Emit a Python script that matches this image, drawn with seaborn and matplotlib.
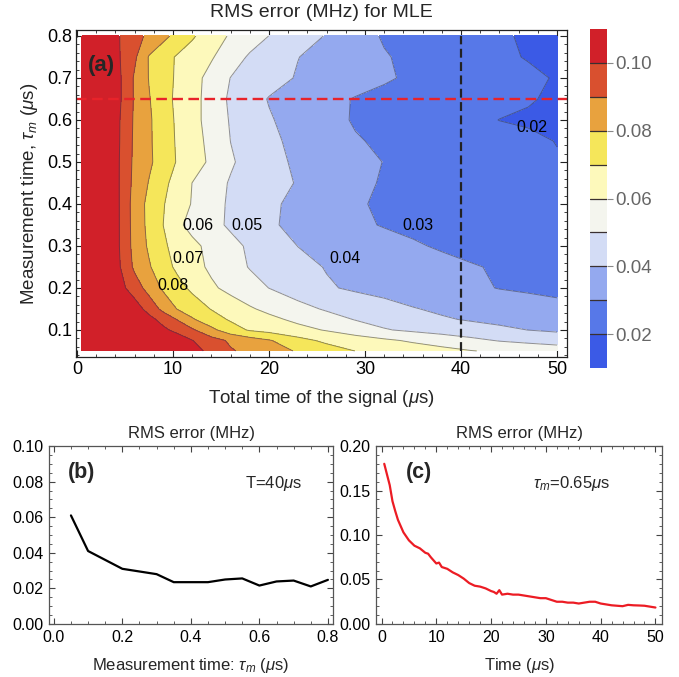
import numpy as np
import pandas as pd
import matplotlib
matplotlib.use("Agg")
import matplotlib.pyplot as plt
import seaborn as sns
from matplotlib.ticker import MultipleLocator, FormatStrFormatter, NullLocator, FixedLocator

# ---------------- data ----------------
total_time = [0.5, 3, 4.5, 6, 7.5, 9, 10.5, 12, 14, 16, 18, 20, 23, 26, 29, 32, 35, 38, 41, 44, 47, 50]
meas_time = [0.05, 0.075, 0.1, 0.125, 0.15, 0.2, 0.25, 0.3, 0.35, 0.4, 0.45, 0.5, 0.55, 0.6, 0.65, 0.7, 0.75, 0.8]

rms_t005 = [0.35, 0.22, 0.18, 0.15, 0.135, 0.122, 0.112, 0.104, 0.097, 0.0909, 0.0876, 0.0840, 0.0792, 0.0746, 0.0699, 0.0675, 0.0653, 0.0630, 0.0604, 0.0585, 0.0568, 0.0552]
rms_t0075 = [0.32, 0.20, 0.16, 0.14, 0.125, 0.112, 0.106, 0.1003, 0.0939, 0.0885, 0.0846, 0.0808, 0.0733, 0.0679, 0.0648, 0.0617, 0.0586, 0.0555, 0.0524, 0.0494, 0.0476, 0.0460]
rms_t010 = [0.30, 0.18, 0.14, 0.12, 0.108, 0.1021, 0.0968, 0.0914, 0.0824, 0.0744, 0.0690, 0.0666, 0.0630, 0.0593, 0.0550, 0.0507, 0.0483, 0.0462, 0.0441, 0.0421, 0.0399, 0.0385]
rms_t0125 = [0.28, 0.16, 0.125, 0.11, 0.1032, 0.0964, 0.0894, 0.0811, 0.0742, 0.0689, 0.0656, 0.0624, 0.0579, 0.0537, 0.0496, 0.0467, 0.0438, 0.0410, 0.0392, 0.0375, 0.0358, 0.0342]
rms_t015 = [0.26, 0.14, 0.115, 0.105, 0.0963, 0.0872, 0.0794, 0.0751, 0.0696, 0.0653, 0.0611, 0.0577, 0.0530, 0.0490, 0.0462, 0.0434, 0.0405, 0.0385, 0.0370, 0.0355, 0.0340, 0.0325]
rms_t020 = [0.24, 0.125, 0.1030, 0.0950, 0.0863, 0.0783, 0.0731, 0.0681, 0.0616, 0.0572, 0.0535, 0.0499, 0.0454, 0.0410, 0.0386, 0.0368, 0.0351, 0.0333, 0.0315, 0.0297, 0.0287, 0.0278]
rms_t025 = [0.22, 0.118, 0.1001, 0.0881, 0.0810, 0.0738, 0.0679, 0.0635, 0.0582, 0.0536, 0.0495, 0.0468, 0.0429, 0.0395, 0.0377, 0.0359, 0.0341, 0.0324, 0.0306, 0.0292, 0.0281, 0.0270]
rms_t030 = [0.21, 0.116, 0.0990, 0.0867, 0.0786, 0.0714, 0.0666, 0.0623, 0.0573, 0.0527, 0.0486, 0.0450, 0.0399, 0.0376, 0.0354, 0.0331, 0.0309, 0.0291, 0.0278, 0.0266, 0.0255, 0.0245]
rms_t035 = [0.20, 0.115, 0.0990, 0.0863, 0.0775, 0.0699, 0.0618, 0.0571, 0.0527, 0.0486, 0.0450, 0.0414, 0.0374, 0.0342, 0.0315, 0.0295, 0.0282, 0.0270, 0.0259, 0.0249, 0.0240, 0.0232]
rms_t040 = [0.20, 0.114, 0.0990, 0.0860, 0.0773, 0.0705, 0.0648, 0.0594, 0.0535, 0.0486, 0.0452, 0.0417, 0.0377, 0.0343, 0.0309, 0.0288, 0.0274, 0.0260, 0.0248, 0.0238, 0.0230, 0.0222]
rms_t045 = [0.19, 0.113, 0.0990, 0.0872, 0.0795, 0.0724, 0.0660, 0.0599, 0.0539, 0.0492, 0.0463, 0.0435, 0.0394, 0.0356, 0.0319, 0.0293, 0.0278, 0.0262, 0.0248, 0.0236, 0.0226, 0.0218]
rms_t050 = [0.19, 0.113, 0.0991, 0.0879, 0.0817, 0.0752, 0.0691, 0.0645, 0.0582, 0.0511, 0.0467, 0.0429, 0.0385, 0.0355, 0.0325, 0.0298, 0.0280, 0.0262, 0.0245, 0.0230, 0.0217, 0.0205]
rms_t055 = [0.19, 0.112, 0.0996, 0.0882, 0.0814, 0.0748, 0.0687, 0.0642, 0.0571, 0.0499, 0.0460, 0.0420, 0.0376, 0.0341, 0.0306, 0.0288, 0.0273, 0.0258, 0.0243, 0.0228, 0.0213, 0.0198]
rms_t060 = [0.19, 0.112, 0.0998, 0.0886, 0.0814, 0.0745, 0.0683, 0.0633, 0.0562, 0.0492, 0.0450, 0.0408, 0.0365, 0.0325, 0.0293, 0.0275, 0.0256, 0.0237, 0.0219, 0.0199, 0.0192, 0.0188]
rms_t065 = [0.179, 0.113, 0.1008, 0.0889, 0.0806, 0.0736, 0.0678, 0.0631, 0.0564, 0.0482, 0.0436, 0.0395, 0.0359, 0.0323, 0.0295, 0.0280, 0.0265, 0.0250, 0.0235, 0.0220, 0.0205, 0.0190]
rms_t070 = [0.20, 0.113, 0.1008, 0.0888, 0.0796, 0.0738, 0.0684, 0.0635, 0.0568, 0.0498, 0.0467, 0.0435, 0.0393, 0.0365, 0.0337, 0.0309, 0.0288, 0.0269, 0.0250, 0.0231, 0.0213, 0.0195]
rms_t075 = [0.20, 0.113, 0.0999, 0.0917, 0.0793, 0.0737, 0.0688, 0.0655, 0.0609, 0.0545, 0.0488, 0.0453, 0.0402, 0.0369, 0.0338, 0.0306, 0.0281, 0.0258, 0.0235, 0.0212, 0.0196, 0.0185]
rms_t080 = [0.20, 0.112, 0.0996, 0.0936, 0.0879, 0.0825, 0.0769, 0.0712, 0.0647, 0.0589, 0.0544, 0.0499, 0.0447, 0.0394, 0.0335, 0.0292, 0.0271, 0.0251, 0.0231, 0.0210, 0.0190, 0.0180]

levels = [0.01, 0.02, 0.03, 0.04, 0.05, 0.06, 0.07, 0.08, 0.09, 0.10, 0.11]
band_colors = ["#3b5ae6", "#5778e8", "#94a9ef", "#d3dcf5", "#f4f5ee",
               "#fdf9bb", "#f5e65a", "#e8a23e", "#d9502f", "#d12029"]
cbar_ticks = [0.02, 0.04, 0.06, 0.08, 0.10]

label_levels = [0.08, 0.07, 0.06, 0.05, 0.04, 0.03, 0.02]

# panel (b): T = 40 us
tau_b = [0.05, 0.1, 0.15, 0.2, 0.25, 0.3, 0.35, 0.4, 0.45, 0.5, 0.55, 0.6, 0.65, 0.7, 0.75, 0.8]
err_b = [0.061, 0.041, 0.036, 0.031, 0.0295, 0.028, 0.0235, 0.0235, 0.0235, 0.025, 0.0256, 0.0216, 0.0239, 0.0244, 0.0211, 0.0248]

# panel (c): tau_m = 0.65 us
time_c = [0.5, 1, 1.5, 2, 2.5, 3, 4, 5, 6, 7, 8, 8.5, 9, 10, 10.5, 11, 12, 13, 14, 15, 16, 17, 18, 19, 20,
          20.5, 21, 21.5, 22, 23, 24, 25, 26, 27, 28, 29, 30, 31, 32, 33, 34, 35, 36, 37, 38, 39, 40,
          41, 42, 43, 44, 45, 46, 47, 48, 49, 50]
err_c = [0.180, 0.168, 0.156, 0.138, 0.127, 0.117, 0.103, 0.094, 0.088, 0.085, 0.080, 0.079, 0.075, 0.068,
         0.069, 0.064, 0.062, 0.058, 0.055, 0.051, 0.046, 0.043, 0.042, 0.040, 0.037, 0.036, 0.034, 0.038,
         0.033, 0.034, 0.033, 0.033, 0.032, 0.031, 0.030, 0.029, 0.029, 0.027, 0.025, 0.025, 0.024, 0.024,
         0.023, 0.024, 0.025, 0.025, 0.023, 0.022, 0.021, 0.0205, 0.020, 0.0215, 0.021, 0.0208, 0.0205,
         0.0195, 0.0185]

# ---------------- style ----------------
sns.set_theme(style="white")
plt.rcParams["font.family"] = ["Liberation Sans", "DejaVu Sans"]
plt.rcParams["mathtext.fontset"] = "custom"
plt.rcParams["mathtext.rm"] = "Liberation Sans"
plt.rcParams["mathtext.it"] = "Liberation Sans:italic"
plt.rcParams["mathtext.bf"] = "Liberation Sans:bold"

fig = plt.figure(figsize=(6.79, 6.77), dpi=100)

# ---------------- panel (a) ----------------
ax = fig.add_axes([0.112, 0.4727, 0.7231, 0.483])
Z = np.array([rms_t005, rms_t0075, rms_t010, rms_t0125, rms_t015, rms_t020, rms_t025, rms_t030, rms_t035,
              rms_t040, rms_t045, rms_t050, rms_t055, rms_t060, rms_t065, rms_t070, rms_t075, rms_t080])
fill_levels = levels[:-1] + [1.0]
ax.contourf(total_time, meas_time, Z, levels=fill_levels, colors=band_colors)
ax.contour(total_time, meas_time, Z, levels=levels[1:-1], colors="#3a3a4a", linewidths=0.7, alpha=0.55)

label_T = [10.0, 11.6, 12.6, 17.7, 27.9, 35.5, 47.4]
label_tau = [0.205, 0.271, 0.348, 0.348, 0.271, 0.348, 0.581]
for lv, lx, ly in zip(label_levels, label_T, label_tau):
    ax.text(lx, ly, f"{lv:.2f}", fontsize=11.5, ha="center", va="center", color="black")

ax.axhline(0.65, color="#e8232a", lw=1.7, dashes=(4.5, 2.3))
ax.vlines(40, meas_time[0], meas_time[-1], color="#222222", lw=1.6, linestyles=(0, (4, 2)))

ax.set_xlim(-0.1, 51.04)
ax.set_ylim(0.0357, 0.8143)
ax.xaxis.set_major_locator(MultipleLocator(10))
ax.xaxis.set_minor_locator(MultipleLocator(2))
ax.yaxis.set_major_locator(MultipleLocator(0.1))
ax.yaxis.set_minor_locator(MultipleLocator(0.02))
ax.yaxis.set_major_formatter(FormatStrFormatter("%.1f"))
ax.tick_params(which="both", direction="in", top=True, right=True, bottom=True, left=True,
               labelsize=13, pad=3, colors="#222222", labelcolor="black")
ax.tick_params(which="major", length=5, width=0.8)
ax.tick_params(which="minor", length=2.5, width=0.6)
for s in ax.spines.values():
    s.set_color("#222222")
    s.set_linewidth(0.9)
ax.set_xlabel(r"Total time of the signal ($\mu$s)", fontsize=13.5, labelpad=7)
ax.set_ylabel(r"Measurement time, $\tau_m$ ($\mu$s)", fontsize=13.5, labelpad=5)
ax.set_title("RMS error (MHz) for MLE", fontsize=14, pad=9)
ax.text(0.025, 0.89, "(a)", transform=ax.transAxes, fontsize=16, fontweight="bold", va="center")

# colour key (bands drawn as bars)
cax = fig.add_axes([0.8689, 0.4564, 0.025, 0.5007])
for lo, hi, col in zip(levels[:-1], levels[1:], band_colors):
    cax.bar(0, hi - lo, bottom=lo, width=1.0, color=col, edgecolor="none", linewidth=0)
for lv in levels[1:-1]:
    cax.axhline(lv, color="#3a3030", lw=0.9)
cax.set_xlim(-0.5, 0.5)
cax.set_ylim(levels[0], levels[-1])
cax.set_xticks([])
cax.yaxis.set_major_locator(FixedLocator(cbar_ticks))
cax.yaxis.set_minor_locator(NullLocator())
cax.yaxis.set_major_formatter(FormatStrFormatter("%.2f"))
cax.yaxis.tick_right()
cax.tick_params(axis="y", which="major", direction="out", length=4, width=0.8, colors="#888888",
                labelcolor="#666666", labelsize=13.5, pad=2, left=False, right=True)
for s in cax.spines.values():
    s.set_visible(False)

# ---------------- panel (b) ----------------
axb = fig.add_axes([0.0722, 0.0783, 0.4183, 0.2629])
dfb = pd.DataFrame({"tau": tau_b, "err": err_b})
sns.lineplot(data=dfb, x="tau", y="err", ax=axb, color="black", lw=1.6)
axb.set_xlim(-0.014, 0.815)
axb.set_ylim(0, 0.1)
axb.xaxis.set_major_locator(MultipleLocator(0.2))
axb.xaxis.set_minor_locator(MultipleLocator(0.05))
axb.yaxis.set_major_locator(MultipleLocator(0.02))
axb.yaxis.set_minor_locator(MultipleLocator(0.005))
axb.xaxis.set_major_formatter(FormatStrFormatter("%.1f"))
axb.yaxis.set_major_formatter(FormatStrFormatter("%.2f"))
axb.set_xlabel(r"Measurement time: $\tau_m$ ($\mu$s)", fontsize=12, labelpad=8)
axb.set_ylabel("")
axb.set_title("RMS error (MHz)", fontsize=12, pad=6)
axb.text(0.067, 0.85, "(b)", transform=axb.transAxes, fontsize=15.5, fontweight="bold", va="center")
axb.text(0.69, 0.79, r"T=40$\mu$s", transform=axb.transAxes, fontsize=12, va="center")

# ---------------- panel (c) ----------------
axc = fig.add_axes([0.5538, 0.0783, 0.4212, 0.2629])
dfc = pd.DataFrame({"time": time_c, "err": err_c})
sns.lineplot(data=dfc, x="time", y="err", ax=axc, color="#ec1c24", lw=1.6)
axc.set_xlim(-1.0, 51.2)
axc.set_ylim(0, 0.2)
axc.xaxis.set_major_locator(MultipleLocator(10))
axc.xaxis.set_minor_locator(MultipleLocator(2))
axc.yaxis.set_major_locator(MultipleLocator(0.05))
axc.yaxis.set_minor_locator(MultipleLocator(0.01))
axc.yaxis.set_major_formatter(FormatStrFormatter("%.2f"))
axc.set_xlabel(r"Time ($\mu$s)", fontsize=12, labelpad=8)
axc.set_ylabel("")
axc.set_title("RMS error (MHz)", fontsize=12, pad=6)
axc.text(0.105, 0.85, "(c)", transform=axc.transAxes, fontsize=15.5, fontweight="bold", va="center")
axc.text(0.55, 0.79, r"$\tau_m$=0.65$\mu$s", transform=axc.transAxes, fontsize=12, va="center")

for a in (axb, axc):
    a.tick_params(which="both", direction="in", top=True, right=True, bottom=True, left=True,
                  labelsize=11.5, pad=4, colors="#444444", labelcolor="black")
    a.tick_params(which="major", length=4, width=0.8)
    a.tick_params(which="minor", length=2, width=0.6)
    for s in a.spines.values():
        s.set_color("#555555")
        s.set_linewidth(0.9)

fig.savefig("out.png", dpi=100)
